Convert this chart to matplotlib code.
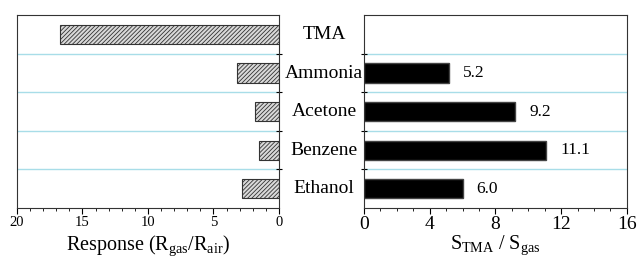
import numpy as np
import matplotlib.pyplot as plt
from matplotlib.ticker import MultipleLocator
from matplotlib.transforms import blended_transform_factory

plt.rcParams['font.family'] = ['Liberation Serif', 'DejaVu Serif']
plt.rcParams['mathtext.fontset'] = 'custom'
plt.rcParams['mathtext.rm'] = 'Liberation Serif'
plt.rcParams['mathtext.it'] = 'Liberation Serif:italic'
plt.rcParams['hatch.color'] = '#444444'
plt.rcParams['hatch.linewidth'] = 0.6

gases = ['TMA', 'Ammonia', 'Acetone', 'Benzene', 'Ethanol']
response = [16.7, 3.2, 1.8, 1.5, 2.8]
sel_gases = ['Ammonia', 'Acetone', 'Benzene', 'Ethanol']
selectivity = [5.2, 9.2, 11.1, 6.0]

fig = plt.figure(figsize=(6.38, 2.61), dpi=100)
ax1 = fig.add_axes([0.0266, 0.203, 0.4107, 0.739])
ax2 = fig.add_axes([0.5705, 0.203, 0.412, 0.739])

ypos = np.arange(len(gases))
sel_pos = [gases.index(g) for g in sel_gases]
sep_color = '#a8dde8'

# left: response, reversed x axis
ax1.barh(ypos, response, height=0.5, color='#d9d9d9', edgecolor='#333333',
         hatch='////////', linewidth=0.8)
ax1.set_xlim(20, 0)
ax1.xaxis.set_major_locator(MultipleLocator(5))
ax1.xaxis.set_minor_locator(MultipleLocator(1))
ax1.set_xlabel('Response (R$_{\\mathrm{gas}}$/R$_{\\mathrm{air}}$)', fontsize=14.5, labelpad=3)
ax1.tick_params(axis='x', labelsize=10.5, pad=2)

# right: selectivity
ax2.barh(sel_pos, selectivity, height=0.5, color='black', edgecolor='#444444')
for p, v in zip(sel_pos, selectivity):
    ax2.text(v + 0.85, p, '%.1f' % v, va='center', ha='left', fontsize=12.5)
ax2.set_xlim(0, 16)
ax2.xaxis.set_major_locator(MultipleLocator(4))
ax2.xaxis.set_minor_locator(MultipleLocator(1))
ax2.set_xlabel('S$_{\\mathrm{TMA}}$ / S$_{\\mathrm{gas}}$', fontsize=14.5, labelpad=0)
ax2.tick_params(axis='x', labelsize=14, pad=2)

for ax in (ax1, ax2):
    ax.set_ylim(len(gases) - 0.5, -0.5)
    seps = ypos[:-1] + 0.5
    for s in seps:
        ax.axhline(s, color=sep_color, linewidth=1.0, zorder=0)
    ax.set_yticks(seps)
    ax.set_yticklabels([])
    ax.tick_params(axis='x', which='major', direction='out', length=4, width=0.8)
    ax.tick_params(axis='x', which='minor', direction='out', length=2, width=0.6)
    for sp in ax.spines.values():
        sp.set_linewidth(0.8)
        sp.set_color('#333333')

ax1.yaxis.tick_right()
ax1.tick_params(axis='y', direction='inout', length=4, width=0.8)
ax2.tick_params(axis='y', direction='inout', length=4, width=0.8)

# category names between the two panels
trans = blended_transform_factory(ax1.transAxes, ax1.transData)
for p, g in zip(ypos, gases):
    ax1.text(1.172, p, g, transform=trans, ha='center', va='center',
             fontsize=14, clip_on=False)

fig.savefig('out.png', dpi=100)
